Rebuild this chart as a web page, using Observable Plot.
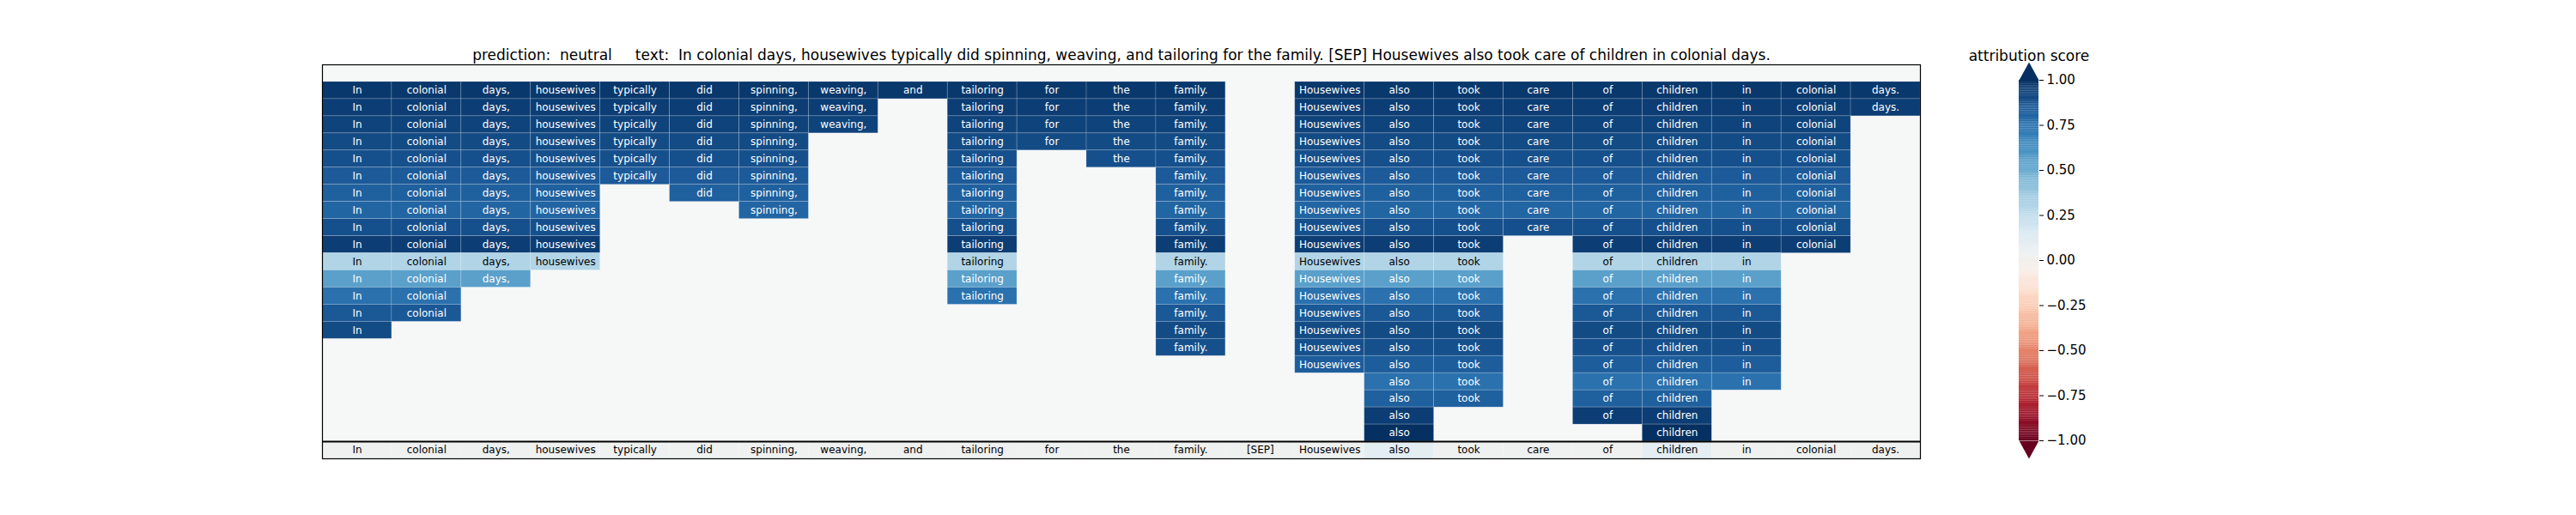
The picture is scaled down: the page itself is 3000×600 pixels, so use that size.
<!DOCTYPE html>
<html>
<head>
<meta charset="utf-8">
<script src="https://cdn.jsdelivr.net/npm/d3@7"></script>
<script src="https://cdn.jsdelivr.net/npm/@observablehq/plot@0.6"></script>
<style>
  body { margin: 0; background: #fff; }
  #wrap { position: relative; width: 3000px; height: 600px; font-family: "DejaVu Sans", sans-serif; }
  #cbar { position: absolute; left: 2250px; top: 0; }
</style>
</head>
<body>
<div id="wrap"><div id="chart"></div><div id="cbar"></div></div>
<script>
const tokens = ["In", "colonial", "days,", "housewives", "typically", "did", "spinning,", "weaving,", "and",
  "tailoring", "for", "the", "family.", "[SEP]", "Housewives", "also", "took", "care", "of", "children",
  "in", "colonial", "days."];

// score of each attribution row (rows 1..21, top to bottom)
const rowScores = [0.97, 0.95, 0.93, 0.9, 0.88, 0.84, 0.82, 0.8, 0.88, 0.95,
  0.3, 0.55, 0.75, 0.85, 0.9, 0.88, 0.83, 0.75, 0.82, 0.95, 1.0];

// token indices shown in each row
const rowTokens = [
  [0,1,2,3,4,5,6,7,8,9,10,11,12,14,15,16,17,18,19,20,21,22],
  [0,1,2,3,4,5,6,7,9,10,11,12,14,15,16,17,18,19,20,21,22],
  [0,1,2,3,4,5,6,7,9,10,11,12,14,15,16,17,18,19,20,21],
  [0,1,2,3,4,5,6,9,10,11,12,14,15,16,17,18,19,20,21],
  [0,1,2,3,4,5,6,9,11,12,14,15,16,17,18,19,20,21],
  [0,1,2,3,4,5,6,9,12,14,15,16,17,18,19,20,21],
  [0,1,2,3,5,6,9,12,14,15,16,17,18,19,20,21],
  [0,1,2,3,6,9,12,14,15,16,17,18,19,20,21],
  [0,1,2,3,9,12,14,15,16,17,18,19,20,21],
  [0,1,2,3,9,12,14,15,16,18,19,20,21],
  [0,1,2,3,9,12,14,15,16,18,19,20],
  [0,1,2,9,12,14,15,16,18,19,20],
  [0,1,9,12,14,15,16,18,19,20],
  [0,1,12,14,15,16,18,19,20],
  [0,12,14,15,16,18,19,20],
  [12,14,15,16,18,19,20],
  [14,15,16,18,19,20],
  [15,16,18,19,20],
  [15,16,18,19],
  [15,18,19],
  [15,19]
];

// scores in the bottom token row
const baseScores = [0.02,0.02,0.02,0.02,0.02,0.02,0.02,0.02,0.02,0.02,0.02,0.02,0.02,0.02,0.02,
  0.1,0.02,0.02,0.02,0.1,0.02,0.02,0.02];

const cells = [];
rowTokens.forEach((idx, r) => idx.forEach(i => cells.push({col: i, row: r + 1, v: rowScores[r], label: tokens[i], base: false})));
tokens.forEach((t, i) => cells.push({col: i, row: 22, v: baseScores[i], label: t, base: true}));

const title = "prediction:  neutral     text:  In colonial days, housewives typically did spinning, weaving, and tailoring for the family. [SEP] Housewives also took care of children in colonial days.";

const chart = Plot.plot({
  width: 3000,
  height: 600,
  marginLeft: 375,
  marginRight: 764,
  marginTop: 75,
  marginBottom: 66,
  style: {fontFamily: "DejaVu Sans", background: "#fff"},
  x: {domain: [0, tokens.length], axis: null},
  y: {domain: [23, 0], axis: null},
  color: {type: "linear", scheme: "RdBu", domain: [-1, 1]},
  marks: [
    Plot.frame({fill: "#f6f7f7"}),
    Plot.rect(cells, {
      x1: "col", x2: d => d.col + 1, y1: "row", y2: d => d.row + 1,
      fill: "v", stroke: "#ffffff", strokeOpacity: 0.22, strokeWidth: 0.8
    }),
    Plot.text(cells, {
      x: d => d.col + 0.5, y: d => d.row + 0.5, text: "label",
      fill: d => (d.base || d.v < 0.45) ? "#000" : "#fff",
      fontSize: 12
    }),
    Plot.ruleY([22], {stroke: "#000", strokeWidth: 2}),
    Plot.frame({stroke: "#000", strokeWidth: 1.2}),
    Plot.text([title], {frameAnchor: "top", dy: -18, fontSize: 17, fill: "#000"})
  ]
});
document.getElementById("chart").append(chart);

// colour bar
const cbTicks = [-1, -0.75, -0.5, -0.25, 0, 0.25, 0.5, 0.75, 1];
const steps = d3.range(-1, 1, 0.01);
const cbar = Plot.plot({
  width: 300,
  height: 600,
  marginLeft: 101,
  marginRight: 176,
  marginTop: 93,
  marginBottom: 87,
  style: {fontFamily: "DejaVu Sans", background: "transparent", overflow: "visible"},
  x: {domain: [0, 1], axis: null},
  y: {domain: [-1, 1], axis: null},
  color: {type: "linear", scheme: "RdBu", domain: [-1, 1]},
  marks: [
    Plot.rect(steps, {x1: 0, x2: 1, y1: d => d, y2: d => d + 0.0101, fill: d => d + 0.005}),
    Plot.line([[0, 1], [0.5, 1.1], [1, 1]], {x: d => d[0], y: d => d[1], fill: d3.interpolateRdBu(1), stroke: "none"}),
    Plot.line([[0, -1], [0.5, -1.1], [1, -1]], {x: d => d[0], y: d => d[1], fill: d3.interpolateRdBu(0), stroke: "none"}),
    Plot.axisY(cbTicks, {anchor: "right", tickFormat: d3.format(".2f"), fontSize: 15, tickSize: 5, tickPadding: 4, label: null}),
    Plot.text(["attribution score"], {frameAnchor: "top", dy: -35, fontSize: 17, fill: "#000"})
  ]
});
document.getElementById("cbar").append(cbar);
</script>
</body>
</html>
